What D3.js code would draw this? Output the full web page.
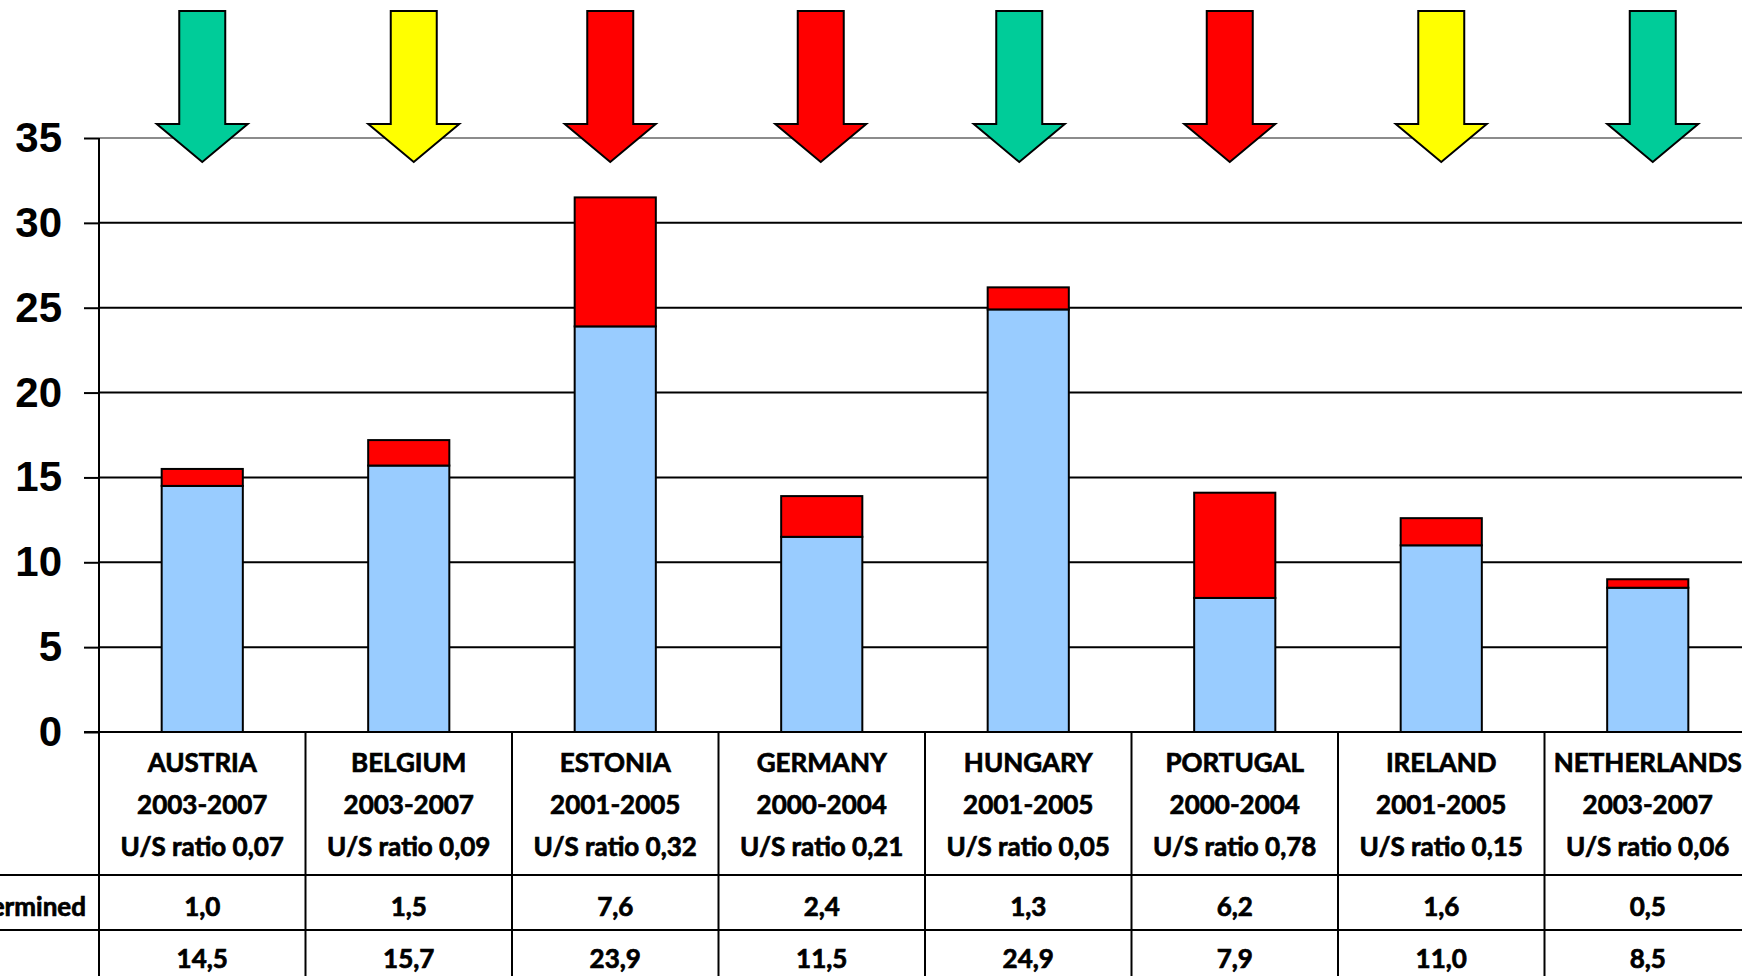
<!DOCTYPE html>
<html>
<head>
<meta charset="utf-8">
<script src="https://cdn.jsdelivr.net/npm/d3@7"></script>
<style>
  html, body { margin: 0; padding: 0; background: #fff; overflow: hidden; }
  svg { display: block; }
</style>
</head>
<body>
<div class="chart"></div>
<script>
// categories and table texts
const countries = ["AUSTRIA", "BELGIUM", "ESTONIA", "GERMANY", "HUNGARY", "PORTUGAL", "IRELAND", "NETHERLANDS"];
const periods = ["2003-2007", "2003-2007", "2001-2005", "2000-2004", "2001-2005", "2000-2004", "2001-2005", "2003-2007"];
const ratios = ["0,07", "0,09", "0,32", "0,21", "0,05", "0,78", "0,15", "0,06"];
// series values
const undetermined = [1.0, 1.5, 7.6, 2.4, 1.3, 6.2, 1.6, 0.5];
const suicide = [14.5, 15.7, 23.9, 11.5, 24.9, 7.9, 11.0, 8.5];
// only the tail of the first row label is visible in the reference
const rowLabels = ["Undetermined"];
// arrow status above each bar
const arrowStatus = ["green", "yellow", "red", "red", "green", "red", "yellow", "green"];
const yTicks = [0, 5, 10, 15, 20, 25, 30, 35];

const W = 1742, H = 976;
const arrowColor = { green: "#00CC99", yellow: "#FFFF00", red: "#FF0000" };
// arrows were placed by hand in the original, slightly off the bar centres
const arrowNudge = [0, 5, -5, -1, -9, -5, 0, 5];

const svg = d3.select(".chart").append("svg")
    .attr("width", W)
    .attr("height", H);

// scales
const x = d3.scaleBand()
    .domain(countries)
    .range([99, 1751])
    .paddingInner(0.607)
    .paddingOuter(0.3035);

const y = d3.scaleLinear()
    .domain([0, 35])
    .range([732, 138]);

const step = x.step();
const cx = d => x(d) + x.bandwidth() / 2;

// gridlines
svg.append("g")
    .selectAll("line")
    .data(yTicks.filter(t => t > 0))
    .join("line")
    .attr("x1", 99)
    .attr("x2", W)
    .attr("y1", d => y(d))
    .attr("y2", d => y(d))
    .attr("stroke", d => d === 35 ? "#8c8c8c" : "#000")
    .attr("stroke-width", 2);

// y axis
const yAxis = svg.append("g")
    .attr("transform", "translate(99,0)")
    .call(d3.axisLeft(y).tickValues(yTicks).tickSize(15).tickPadding(22));
yAxis.select(".domain").remove();
yAxis.selectAll(".tick line").attr("stroke", "#000").attr("stroke-width", 2);
yAxis.selectAll(".tick text")
    .attr("fill", "#000")
    .style("font-family", "'Liberation Sans', Arial, sans-serif")
    .style("font-weight", "bold")
    .style("font-size", "42px");

// stacked bars: suicide at the bottom, undetermined on top
svg.append("g")
    .selectAll("rect")
    .data(countries)
    .join("rect")
    .attr("x", d => x(d))
    .attr("y", (d, i) => y(suicide[i]))
    .attr("width", x.bandwidth())
    .attr("height", (d, i) => y(0) - y(suicide[i]))
    .attr("fill", "#99CCFF")
    .attr("stroke", "#000")
    .attr("stroke-width", 2);

svg.append("g")
    .selectAll("rect")
    .data(countries)
    .join("rect")
    .attr("x", d => x(d))
    .attr("y", (d, i) => y(suicide[i] + undetermined[i]))
    .attr("width", x.bandwidth())
    .attr("height", (d, i) => y(suicide[i]) - y(suicide[i] + undetermined[i]))
    .attr("fill", "#FF0000")
    .attr("stroke", "#000")
    .attr("stroke-width", 2);

// arrows
const arrowTop = 11, headTop = 124, tip = 162, shaftHalf = 23, headHalf = 45.5;
svg.append("g")
    .selectAll("path")
    .data(countries)
    .join("path")
    .attr("d", (d, i) => {
        const c = cx(d) + arrowNudge[i];
        return d3.line()([
            [c - shaftHalf, arrowTop], [c + shaftHalf, arrowTop], [c + shaftHalf, headTop],
            [c + headHalf, headTop], [c, tip], [c - headHalf, headTop], [c - shaftHalf, headTop]
        ]) + "Z";
    })
    .attr("fill", (d, i) => arrowColor[arrowStatus[i]])
    .attr("stroke", "#000")
    .attr("stroke-width", 2)
    .attr("stroke-linejoin", "miter");

// data table
const table = svg.append("g");
const rowLines = [875, 930, 985];

// zero line + tick
table.append("line")
    .attr("x1", 84).attr("x2", W)
    .attr("y1", y(0)).attr("y2", y(0))
    .attr("stroke", "#000").attr("stroke-width", 2);

rowLines.forEach(ry => {
    table.append("line")
        .attr("x1", 0).attr("x2", W)
        .attr("y1", ry).attr("y2", ry)
        .attr("stroke", "#000").attr("stroke-width", 2);
});

// vertical separators (axis and column borders)
table.selectAll(".sep")
    .data(d3.range(countries.length + 1))
    .join("line")
    .attr("class", "sep")
    .attr("x1", i => 99 + i * step)
    .attr("x2", i => 99 + i * step)
    .attr("y1", i => i === 0 ? y(35) : y(0))
    .attr("y2", H)
    .attr("stroke", "#000")
    .attr("stroke-width", 2);

const tableFont = "Lato, 'Open Sans', sans-serif";
function tableText(sel) {
    sel.style("font-family", tableFont)
        .style("font-weight", "bold")
        .style("font-size", "26px")
        .attr("fill", "#000")
        .attr("stroke", "#000")
        .attr("stroke-width", 0.7);
}

const headerLines = [countries, periods, ratios.map(r => "U/S ratio " + r)];
const headerBase = [772, 814, 856];

headerLines.forEach((lines, li) => {
    table.selectAll(".h" + li)
        .data(countries)
        .join("text")
        .attr("class", "h" + li)
        .attr("x", d => cx(d))
        .attr("y", headerBase[li])
        .attr("text-anchor", "middle")
        .call(tableText)
        .text((d, i) => lines[i]);
});

const fmt = v => v.toFixed(1).replace(".", ",");
[undetermined, suicide].forEach((vals, ri) => {
    table.selectAll(".r" + ri)
        .data(countries)
        .join("text")
        .attr("class", "r" + ri)
        .attr("x", d => cx(d))
        .attr("y", [916, 968][ri])
        .attr("text-anchor", "middle")
        .call(tableText)
        .text((d, i) => fmt(vals[i]));
});

// row label, right end just left of the axis
table.selectAll(".rl")
    .data(rowLabels)
    .join("text")
    .attr("class", "rl")
    .attr("x", 86)
    .attr("y", (d, i) => [916, 968][i])
    .attr("text-anchor", "end")
    .call(tableText)
    .text(d => d);
</script>
</body>
</html>
